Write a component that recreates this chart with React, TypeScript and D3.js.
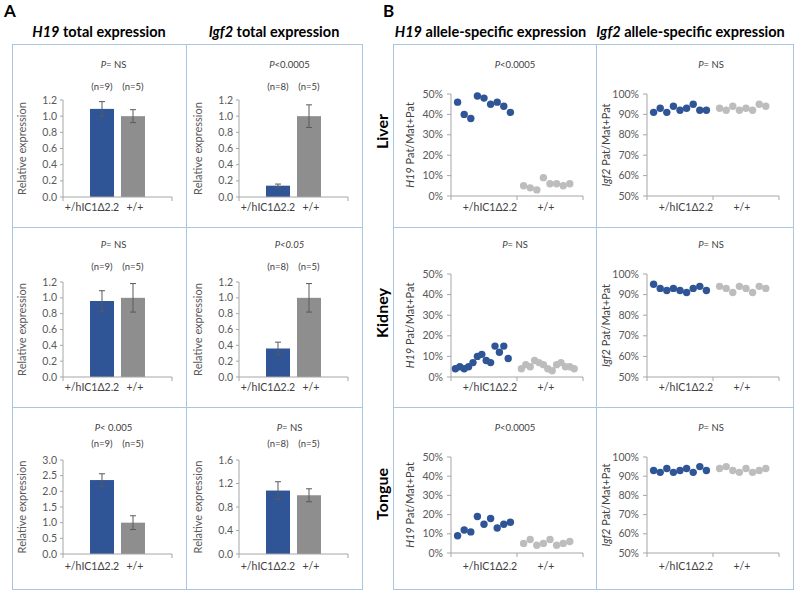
import React from "react";
import * as d3 from "d3";

// ---------- data ----------
const groups = ["+/hIC1Δ2.2", "+/+"];
const tissues = ["Liver", "Kidney", "Tongue"];
const genes = ["H19", "Igf2"];

// Panel A: total expression (rows = Liver, Kidney, Tongue; [mutant, wild type])
const nLabelsA = [["(n=9)", "(n=5)"], ["(n=8)", "(n=5)"]];
const h19TotalMean = [[1.09, 1.0], [0.96, 1.0], [2.36, 1.0]];
const h19TotalErr = [[0.09, 0.08], [0.13, 0.18], [0.2, 0.22]];
const igf2TotalMean = [[0.14, 1.0], [0.36, 1.0], [1.08, 1.0]];
const igf2TotalErr = [[0.02, 0.14], [0.08, 0.18], [0.15, 0.11]];
const h19TotalTicks = [[0, 0.2, 0.4, 0.6, 0.8, 1.0, 1.2], [0, 0.2, 0.4, 0.6, 0.8, 1.0, 1.2], [0, 0.5, 1.0, 1.5, 2.0, 2.5, 3.0]];
const igf2TotalTicks = [[0, 0.2, 0.4, 0.6, 0.8, 1.0, 1.2], [0, 0.2, 0.4, 0.6, 0.8, 1.0, 1.2], [0, 0.4, 0.8, 1.2, 1.6]];
const h19TotalP = ["= NS", "= NS", "< 0.005"];
const igf2TotalP = ["<0.0005", "<0.05", "= NS"];
const igf2TotalPItalic = [false, true, false];

// Panel B: allele-specific expression, % Pat/(Mat+Pat)
const h19AsMut = [
  [46, 40, 38, 49, 48, 45, 46, 44, 41],
  [4, 5, 4, 5, 7, 10, 11, 8, 7, 15, 12, 15, 9],
  [9, 12, 11, 19, 15, 18, 13, 15, 16],
];
const h19AsWt = [
  [5, 4, 3, 9, 6, 6, 5, 6],
  [4, 6, 5, 8, 7, 6, 4, 3, 6, 7, 5, 5, 4],
  [5, 7, 4, 5, 7, 4, 5, 6],
];
const igf2AsMut = [
  [91, 93, 91, 94, 92, 93, 95, 92, 92],
  [95, 93, 92, 93, 92, 91, 93, 94, 92],
  [93, 92, 94, 92, 93, 94, 92, 95, 93],
];
const igf2AsWt = [
  [93, 92, 94, 92, 93, 92, 95, 94],
  [94, 93, 91, 94, 93, 91, 94, 93],
  [94, 95, 93, 92, 94, 92, 93, 94],
];
const h19AsP = ["<0.0005", "= NS", "<0.0005"];
const igf2AsP = ["= NS", "= NS", "= NS"];
const h19AsTicks = [0, 10, 20, 30, 40, 50];
const igf2AsTicks = [50, 60, 70, 80, 90, 100];

// ---------- styles / layout ----------
const FONT = "Lato, 'Noto Sans', 'DejaVu Sans', sans-serif";
const BLUE = "#2F5597";
const GRAY_BAR = "#8E8E8E";
const GRAY_DOT = "#BDBDBD";
const BOX = "#A9C5E0";
const AXIS = "#A6A6A6";
const TXT = "#595959";

const rowTop = [44, 227, 407];
const rowBottom = 589;
const aPlotTop = [100, 282, 460];
const aPlotBottom = [197, 377, 554];
const pY = [65, 245, 428];
const nY = [87, 267, 444];
const xLabY = [207, 387, 566];
const bPlotTop = [94, 274, 457];
const bPlotBottom = [196, 377, 553];

const aBoxX = [12, 186, 362];
const aAxisX = [[63, 172], [239, 348]];
const bBoxX = [393, 596, 793];
const bAxisX = [[451, 583], [647, 779]];

function PLabel({ x, y, rest, allItalic }: { x: number; y: number; rest: string; allItalic?: boolean }) {
  return (
    <text x={x} y={y} textAnchor="middle" fontSize={9.5} fill="#404040" fontFamily={FONT}>
      <tspan fontStyle="italic">P</tspan>
      <tspan fontStyle={allItalic ? "italic" : "normal"}>{rest}</tspan>
    </text>
  );
}

function BarChart({ col, row }: { col: number; row: number }) {
  const means = col === 0 ? h19TotalMean[row] : igf2TotalMean[row];
  const errs = col === 0 ? h19TotalErr[row] : igf2TotalErr[row];
  const ticks = col === 0 ? h19TotalTicks[row] : igf2TotalTicks[row];
  const [ax0, ax1] = aAxisX[col];
  const y = d3.scaleLinear().domain([0, ticks[ticks.length - 1]]).range([aPlotBottom[row], aPlotTop[row]]);
  const x = d3.scaleBand<string>().domain(groups).range([ax0 + 27, ax0 + 82]).paddingInner(0.226).paddingOuter(0);
  const bw = x.bandwidth();
  const fmt = d3.format(".1f");
  const cx = (ax0 + ax1) / 2 - 4;
  const pText = col === 0 ? h19TotalP[row] : igf2TotalP[row];
  const pItal = col === 1 && igf2TotalPItalic[row];
  return (
    <g>
      <PLabel x={cx} y={pY[row] + 3} rest={pText} allItalic={pItal} />
      {groups.map((g, i) => (
        <text key={g} x={x(g)! + bw / 2} y={nY[row] + 3} textAnchor="middle" fontSize={9.5} fill="#404040" fontFamily={FONT}>
          {nLabelsA[col][i]}
        </text>
      ))}
      {ticks.map((t) => (
        <text key={t} x={ax0 - 6} y={y(t) + 3.5} textAnchor="end" fontSize={10.5} fill={TXT} fontFamily={FONT}>
          {fmt(t)}
        </text>
      ))}
      {ticks.map((t) => (
        <line key={"tk" + t} x1={ax0 - 3} x2={ax0} y1={y(t)} y2={y(t)} stroke={AXIS} />
      ))}
      <line x1={ax0} x2={ax0} y1={y(0)} y2={y(ticks[ticks.length - 1])} stroke={AXIS} />
      {groups.map((g, i) => (
        <rect key={"b" + g} x={x(g)} y={y(means[i])} width={bw} height={y(0) - y(means[i])} fill={i === 0 ? BLUE : GRAY_BAR} />
      ))}
      {groups.map((g, i) => {
        const c = x(g)! + bw / 2;
        return (
          <g key={"e" + g} stroke="#5A5A5A" strokeWidth={1}>
            <line x1={c} x2={c} y1={y(means[i] + errs[i])} y2={y(means[i] - errs[i])} />
            <line x1={c - 3} x2={c + 3} y1={y(means[i] + errs[i])} y2={y(means[i] + errs[i])} />
            <line x1={c - 3} x2={c + 3} y1={y(means[i] - errs[i])} y2={y(means[i] - errs[i])} />
          </g>
        );
      })}
      <line x1={ax0} x2={ax1} y1={y(0)} y2={y(0)} stroke={AXIS} />
      <line x1={ax0} x2={ax0} y1={y(0)} y2={y(0) + 4} stroke={AXIS} />
      <line x1={ax1} x2={ax1} y1={y(0)} y2={y(0) + 4} stroke={AXIS} />
      <text x={x(groups[0])! + bw / 2 - 10} y={xLabY[row] + 3.5} textAnchor="middle" fontSize={10.5} fill="#404040" fontFamily={FONT}>
        {groups[0]}
      </text>
      <text x={x(groups[1])! + bw / 2 + 2} y={xLabY[row] + 3.5} textAnchor="middle" fontSize={10.5} fill="#404040" fontFamily={FONT}>
        {groups[1]}
      </text>
      <text
        transform={`translate(${ax0 - 37},${(y(0) + y(ticks[ticks.length - 1])) / 2}) rotate(-90)`}
        textAnchor="middle"
        fontSize={11}
        fill={TXT}
        fontFamily={FONT}
      >
        Relative  expression
      </text>
    </g>
  );
}

function DotChart({ col, row }: { col: number; row: number }) {
  const mut = col === 0 ? h19AsMut[row] : igf2AsMut[row];
  const wt = col === 0 ? h19AsWt[row] : igf2AsWt[row];
  const ticks = col === 0 ? h19AsTicks : igf2AsTicks;
  const [ax0, ax1] = bAxisX[col];
  const gap = mut.length >= 13 ? 2 : 1;
  const wtStart = mut.length + gap;
  const domEnd = wtStart + wt.length + 1;
  const x = d3.scaleLinear().domain([-1, domEnd]).range([ax0, ax1]);
  const mid = (domEnd - 1) / 2;
  const y = d3.scaleLinear().domain([ticks[0], ticks[ticks.length - 1]]).range([bPlotBottom[row], bPlotTop[row]]);
  const pText = col === 0 ? h19AsP[row] : igf2AsP[row];
  const yBase = y(ticks[0]);
  return (
    <g>
      <PLabel x={(ax0 + ax1) / 2 - 2} y={pY[row] + 3} rest={pText} />
      {ticks.map((t) => (
        <text key={t} x={ax0 - 8} y={y(t) + 3.5} textAnchor="end" fontSize={10.5} fill={TXT} fontFamily={FONT}>
          {t}%
        </text>
      ))}
      {ticks.map((t) => (
        <line key={"tk" + t} x1={ax0 - 4} x2={ax0} y1={y(t)} y2={y(t)} stroke={AXIS} />
      ))}
      <line x1={ax0} x2={ax0} y1={yBase} y2={y(ticks[ticks.length - 1])} stroke={AXIS} />
      <line x1={ax0} x2={ax1} y1={yBase} y2={yBase} stroke={AXIS} />
      {[-1, mid, domEnd].map((v) => (
        <line key={"xt" + v} x1={x(v)} x2={x(v)} y1={yBase} y2={yBase + 4} stroke={AXIS} />
      ))}
      {mut.map((v, i) => (
        <circle key={"m" + i} cx={x(i)} cy={y(v)} r={3.7} fill={BLUE} />
      ))}
      {wt.map((v, i) => (
        <circle key={"w" + i} cx={x(wtStart + i)} cy={y(v)} r={3.7} fill={GRAY_DOT} />
      ))}
      <text x={(x(-1) + x(mid)) / 2 + 6} y={xLabY[row] + 3.5} textAnchor="middle" fontSize={10.5} fill="#404040" fontFamily={FONT}>
        {groups[0]}
      </text>
      <text x={(x(mid) + x(domEnd)) / 2 - 4} y={xLabY[row] + 3.5} textAnchor="middle" fontSize={10.5} fill="#404040" fontFamily={FONT}>
        {groups[1]}
      </text>
      <text
        transform={`translate(${ax0 - 37},${(yBase + y(ticks[ticks.length - 1])) / 2}) rotate(-90)`}
        textAnchor="middle"
        fontSize={11}
        fill="#404040"
        fontFamily={FONT}
      >
        <tspan fontStyle="italic">{genes[col]}</tspan>
        <tspan>{"  Pat/Mat+Pat"}</tspan>
      </text>
    </g>
  );
}

export default function App() {
  const rowsB = [44, 227, 407, 589];
  return (
    <svg width={800} height={592} style={{ position: "absolute", left: 0, top: 0, background: "#fff" }} fontFamily={FONT}>
      <rect width={800} height={592} fill="#fff" />
      <text x={4} y={17} fontSize={17} fontWeight="bold" fill="#000">A</text>
      <text x={383} y={17} fontSize={17} fontWeight="bold" fill="#000">B</text>
      {/* titles */}
      {genes.map((g, c) => (
        <text key={"ta" + g} x={(aBoxX[c] + aBoxX[c + 1]) / 2} y={37} textAnchor="middle" fontSize={14.5} fontWeight="bold" fill="#000">
          <tspan fontStyle="italic">{g}</tspan>
          <tspan>{" total expression"}</tspan>
        </text>
      ))}
      {genes.map((g, c) => (
        <text key={"tb" + g} x={(bBoxX[c] + bBoxX[c + 1]) / 2 - 4} y={37} textAnchor="middle" fontSize={14.5} fontWeight="bold" fill="#000">
          <tspan fontStyle="italic">{g}</tspan>
          <tspan>{" allele-specific expression"}</tspan>
        </text>
      ))}
      {/* boxes */}
      <g stroke={BOX} fill="none" strokeWidth={1}>
        <rect x={aBoxX[0] + 0.5} y={rowTop[0] + 0.5} width={aBoxX[2] - aBoxX[0]} height={rowBottom - rowTop[0]} />
        <line x1={aBoxX[1] + 0.5} x2={aBoxX[1] + 0.5} y1={rowTop[0]} y2={rowBottom} />
        <rect x={bBoxX[0] + 0.5} y={rowTop[0] + 0.5} width={bBoxX[2] - bBoxX[0]} height={rowBottom - rowTop[0]} />
        <line x1={bBoxX[1] + 0.5} x2={bBoxX[1] + 0.5} y1={rowTop[0]} y2={rowBottom} />
        {rowsB.slice(1, 3).map((yy) => (
          <g key={"rl" + yy}>
            <line x1={aBoxX[0]} x2={aBoxX[2]} y1={yy + 0.5} y2={yy + 0.5} />
            <line x1={bBoxX[0]} x2={bBoxX[2]} y1={yy + 0.5} y2={yy + 0.5} />
          </g>
        ))}
      </g>
      {/* row labels */}
      {tissues.map((t, r) => (
        <text
          key={t}
          transform={`translate(388,${(rowsB[r] + rowsB[r + 1]) / 2 - 4}) rotate(-90)`}
          textAnchor="middle"
          fontSize={16}
          fontWeight="bold"
          fill="#000"
        >
          {t}
        </text>
      ))}
      {[0, 1, 2].map((r) => (
        <g key={"r" + r}>
          <BarChart col={0} row={r} />
          <BarChart col={1} row={r} />
          <DotChart col={0} row={r} />
          <DotChart col={1} row={r} />
        </g>
      ))}
    </svg>
  );
}
